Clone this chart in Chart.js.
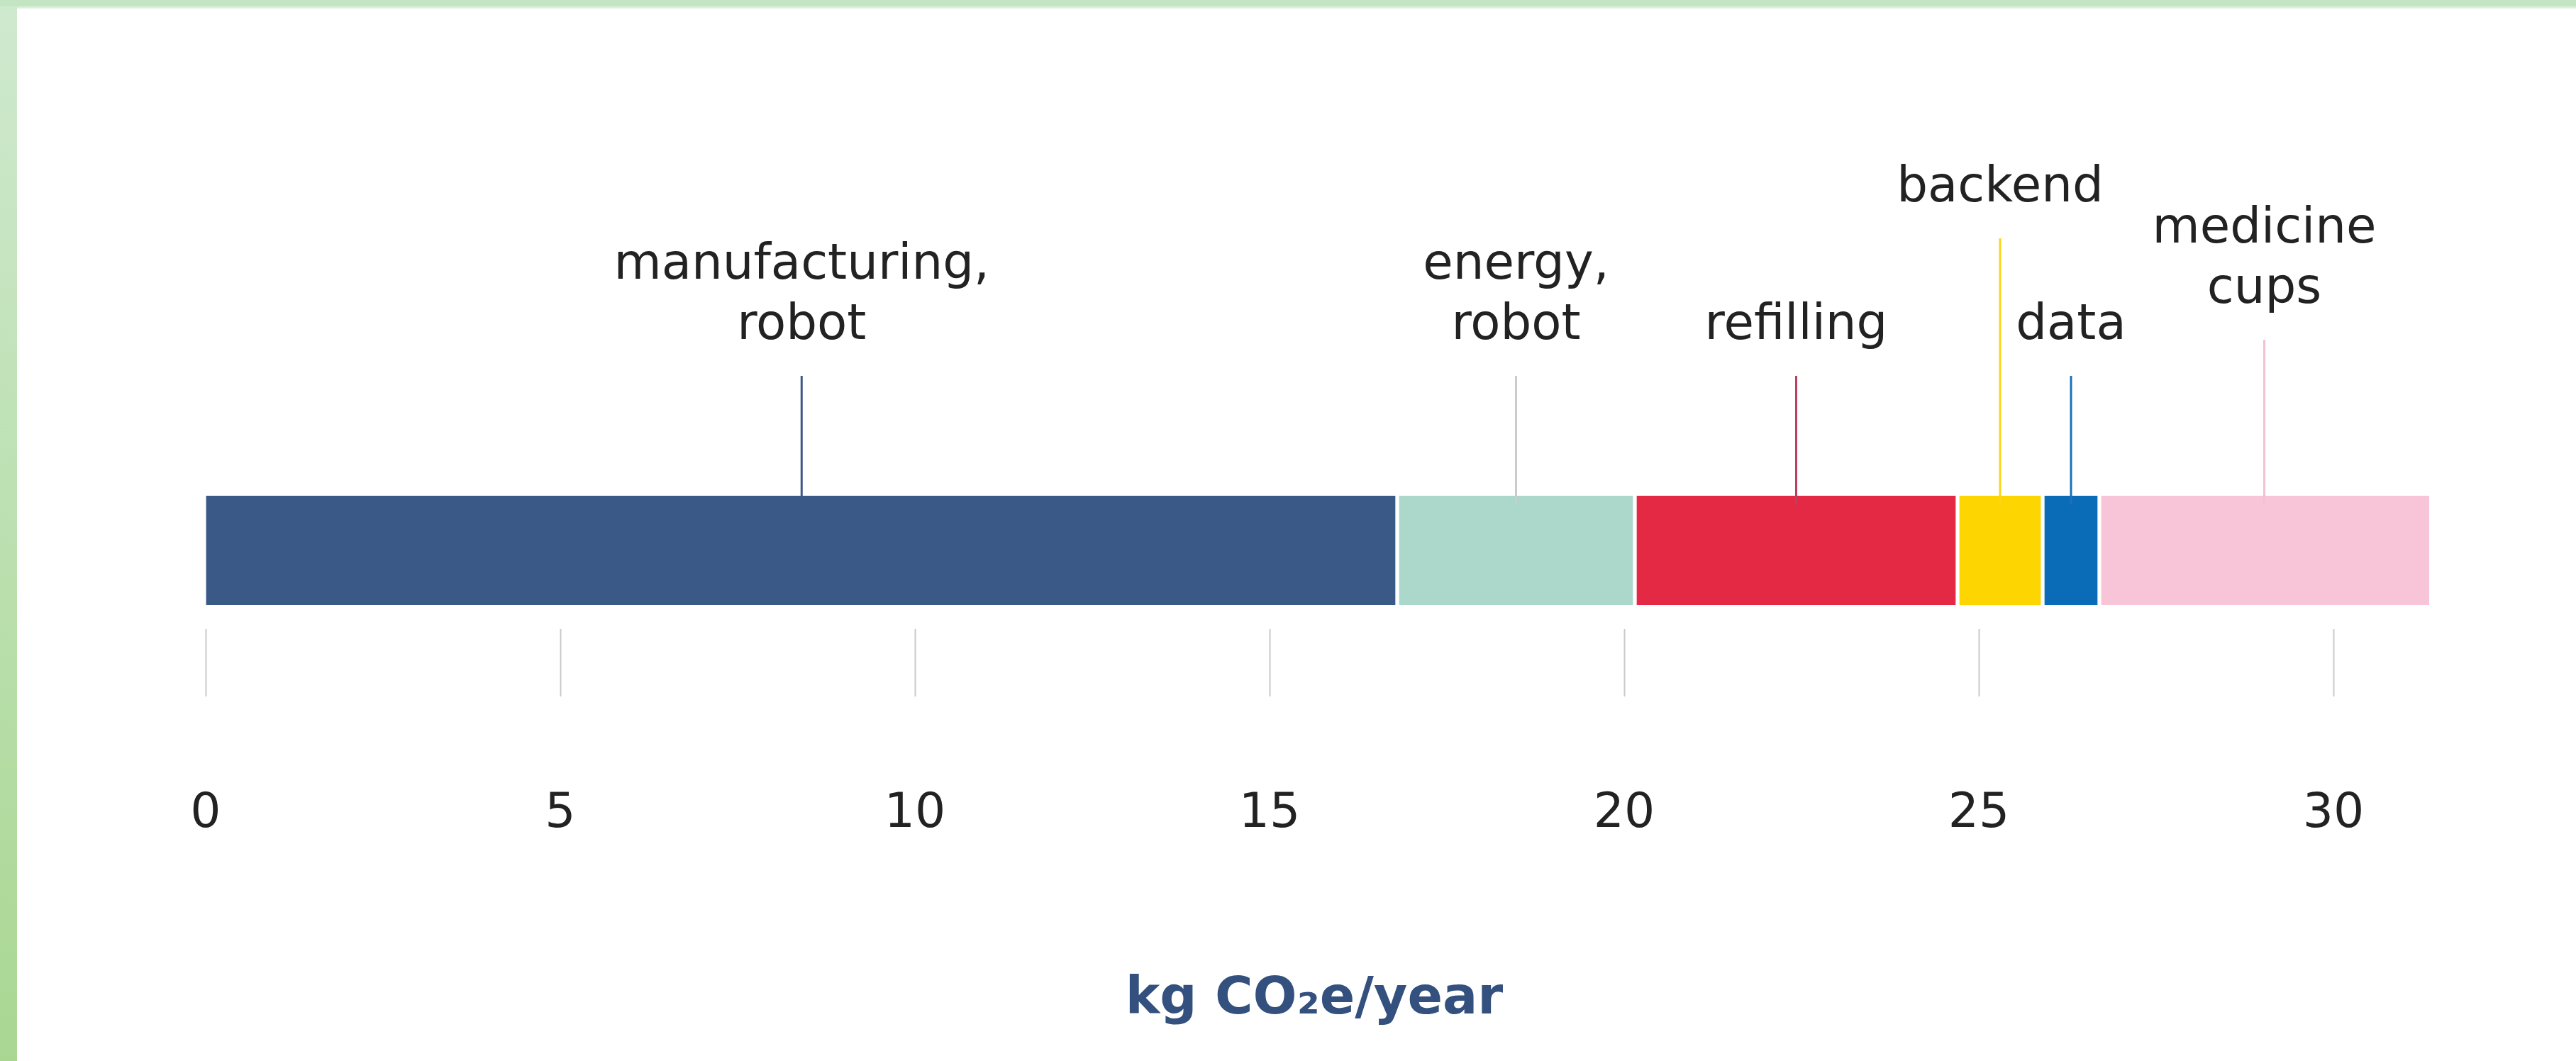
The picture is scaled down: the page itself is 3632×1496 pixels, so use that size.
<!DOCTYPE html>
<html lang="en">

<head>
    <meta charset="UTF-8">
    <title>kg CO2e/year</title>
    <script src="https://cdn.jsdelivr.net/npm/chart.js"></script>
    <style>
        html, body {
            margin: 0;
            padding: 0;
            background: #fff;
        }

        canvas {
            display: block;
        }
    </style>
</head>

<body>
    <canvas id="chart" width="3632" height="1496"></canvas>

    <script>
        // segment names (label lines) and values in kg CO2e/year
        const categories = ['manufacturing, robot', 'energy, robot', 'refilling', 'backend', 'data', 'medicine cups'];
        const labelLines = [['manufacturing,', 'robot'], ['energy,', 'robot'], ['refilling'], ['backend'], ['data'], ['medicine', 'cups']];
        const values = [16.8, 3.35, 4.55, 1.2, 0.8, 4.65];
        const tickValues = [0, 5, 10, 15, 20, 25, 30];
        const axisTitle = 'kg CO₂e/year';

        const barColors = ['#3a5986', '#acd8cb', '#e32944', '#fdd500', '#0a6cb6', '#f7c5d7'];
        const leaderColors = ['#3a5986', '#c8cccc', '#b9405e', '#fbd61c', '#1a70b6', '#f3c1d1'];
        // how far above the bar each leader line starts (px)
        const leaderRise = [169, 169, 169, 363, 169, 220];

        const FONT = '"DejaVu Sans", sans-serif';

        const frame = {
            id: 'frame',
            beforeDraw(chart) {
                const ctx = chart.ctx;
                ctx.save();
                ctx.fillStyle = '#fff';
                ctx.fillRect(0, 0, chart.width, chart.height);
                const g = ctx.createLinearGradient(0, 0, 0, chart.height);
                g.addColorStop(0, '#cfe9cf');
                g.addColorStop(1, '#a9d792');
                ctx.fillStyle = g;
                ctx.fillRect(0, 0, 24, chart.height);
                ctx.fillStyle = '#c4e5c2';
                ctx.fillRect(0, 0, chart.width, 9);
                ctx.fillStyle = '#dcefdc';
                ctx.fillRect(24, 9, chart.width, 3);
                ctx.restore();
            }
        };

        const leaders = {
            id: 'leaders',
            afterDatasetsDraw(chart) {
                const ctx = chart.ctx;
                ctx.save();
                ctx.font = '69px ' + FONT;
                ctx.textAlign = 'center';
                ctx.textBaseline = 'alphabetic';
                chart.data.datasets.forEach((ds, i) => {
                    const bar = chart.getDatasetMeta(i).data[0];
                    const p = bar.getProps(['x', 'base', 'y', 'height'], true);
                    const mid = (p.x + p.base) / 2;
                    const top = p.y - p.height / 2;
                    const lineTop = top - leaderRise[i];

                    ctx.strokeStyle = leaderColors[i];
                    ctx.lineWidth = 3;
                    ctx.beginPath();
                    ctx.moveTo(mid, lineTop);
                    ctx.lineTo(mid, top + 12);
                    ctx.stroke();

                    const lines = labelLines[i];
                    ctx.fillStyle = '#222';
                    lines.forEach((t, k) => {
                        const y = lineTop - 52 - (lines.length - 1 - k) * 85;
                        ctx.fillText(t, mid, y);
                    });
                });

                // axis title, centred under the bar rather than the plot area
                const x = chart.scales.x;
                ctx.font = 'bold 73px ' + FONT;
                ctx.fillStyle = '#33507e';
                ctx.textBaseline = 'middle';
                ctx.fillText(axisTitle, x.getPixelForValue(15.63), 1410);
                ctx.restore();
            }
        };

        const ctx = document.getElementById('chart').getContext('2d');
        new Chart(ctx, {
            type: 'bar',
            data: {
                labels: ['total'],
                datasets: categories.map((name, i) => ({
                    label: name,
                    data: [values[i]],
                    backgroundColor: barColors[i],
                    borderColor: '#fff',
                    borderSkipped: false,
                    borderWidth: {
                        left: i === 0 ? 0 : 3,
                        right: i === categories.length - 1 ? 0 : 3,
                        top: 0,
                        bottom: 0
                    },
                    barThickness: 154
                }))
            },
            options: {
                indexAxis: 'y',
                responsive: false,
                animation: false,
                layout: {
                    padding: { left: 290, right: 142, top: 665, bottom: 0 }
                },
                plugins: {
                    legend: { display: false },
                    tooltip: { enabled: false }
                },
                scales: {
                    y: {
                        stacked: true,
                        display: false
                    },
                    x: {
                        stacked: true,
                        min: 0,
                        max: 32,
                        afterBuildTicks: (s) => {
                            s.ticks = tickValues.map(v => ({ value: v }));
                        },
                        afterFit: (s) => {
                            s.height = 609;
                        },
                        border: { display: false },
                        grid: {
                            drawOnChartArea: false,
                            drawTicks: true,
                            tickLength: 95,
                            tickColor: '#c9c9c9',
                            tickWidth: 2
                        },
                        ticks: {
                            padding: 126,
                            color: '#222',
                            font: { family: FONT, size: 68 }
                        }
                    }
                }
            },
            plugins: [frame, leaders]
        });
    </script>

</body>

</html>
